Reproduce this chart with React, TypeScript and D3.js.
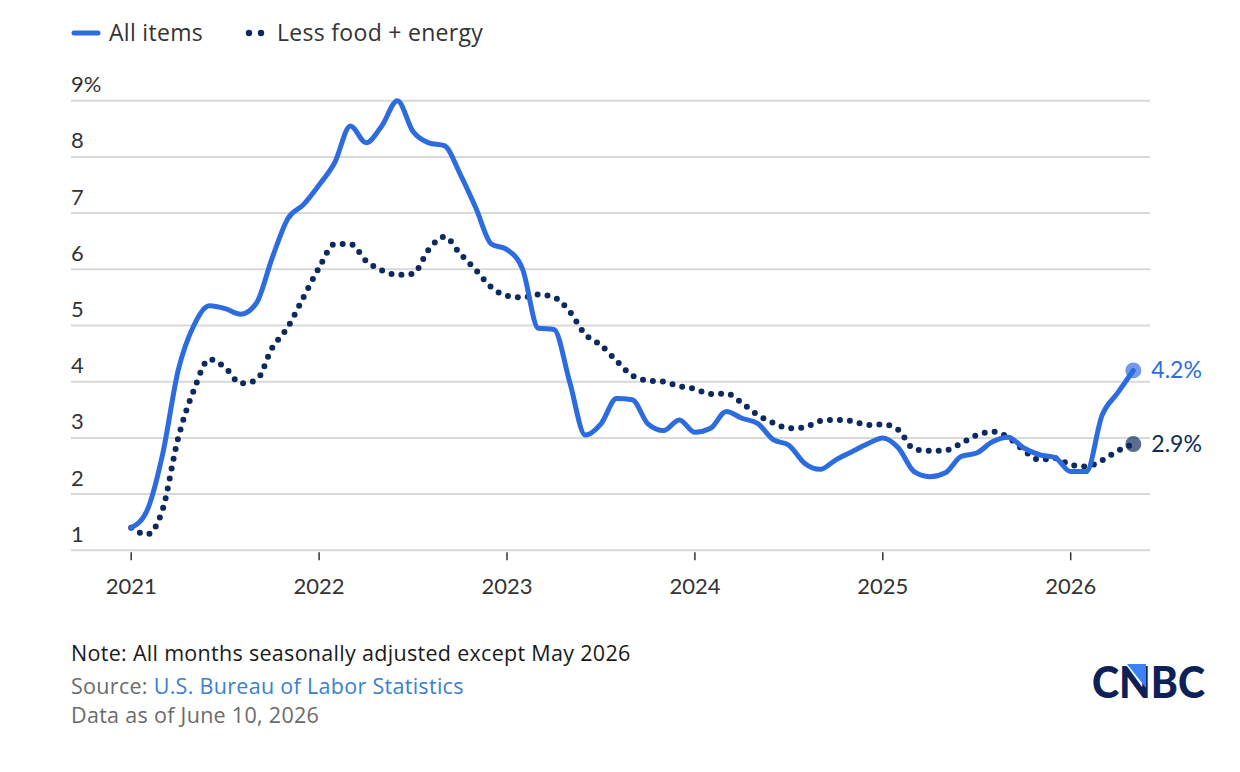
import { useEffect, useRef } from 'react';
import * as d3 from 'd3';

// monthly readings, Jan 2021 .. May 2026 (year-over-year %)
const allItems = [
  1.4, 1.7, 2.7, 4.2, 5.0, 5.35, 5.3, 5.2, 5.4, 6.2, 6.9, 7.15,
  7.5, 7.9, 8.55, 8.25, 8.55, 9.0, 8.45, 8.25, 8.2, 7.7, 7.1, 6.45,
  6.35, 6.0, 4.95, 4.93, 4.0, 3.05, 3.25, 3.7, 3.68, 3.25, 3.13, 3.32,
  3.1, 3.17, 3.47, 3.35, 3.26, 2.97, 2.87, 2.55, 2.44, 2.61, 2.75, 2.89,
  3.0, 2.82, 2.4, 2.31, 2.38, 2.67, 2.73, 2.93, 3.01, 2.82, 2.7, 2.65,
  2.4, 2.4, 3.4, 3.8, 4.2
];

const lessFoodEnergy = [
  1.4, 1.28, 1.72, 3.0, 3.85, 4.4, 4.25, 3.97, 4.03, 4.6, 4.97, 5.5,
  6.03, 6.45, 6.45, 6.15, 5.98, 5.9, 5.92, 6.35, 6.58, 6.28, 5.99, 5.68,
  5.53, 5.5, 5.55, 5.5, 5.25, 4.84, 4.65, 4.37, 4.11, 4.02, 4.0, 3.92,
  3.87, 3.78, 3.79, 3.62, 3.41, 3.27, 3.17, 3.19, 3.3, 3.32, 3.3, 3.23,
  3.24, 3.14, 2.8, 2.77, 2.78, 2.9, 3.05, 3.11, 3.01, 2.78, 2.61, 2.64,
  2.52, 2.49, 2.6, 2.77, 2.89
];

const years = ['2021', '2022', '2023', '2024', '2025', '2026'];
const yTicks = [1, 2, 3, 4, 5, 6, 7, 8, 9];

const BLUE = '#2d6cdf';
const NAVY = '#0d2a5e';
const FONT = 'Lato, "Open Sans", sans-serif';
const TEXT_FONT = '"Open Sans", Lato, sans-serif';

function App() {
  const ref = useRef<SVGSVGElement>(null);

  useEffect(() => {
    draw();
    // eslint-disable-next-line
  }, []);

  function draw() {
    const svg = d3.select(ref.current);
    svg.selectAll('*').remove();

    const config = { left: 71, right: 1150, top: 100.7, bottom: 550.3 };

    const x = d3.scaleLinear().domain([0, 60]).range([131.2, 1070.7]);
    const y = d3.scaleLinear().domain([1, 9]).range([config.bottom, config.top]);

    // legend
    const legend = svg.append('g')
      .style('font-family', TEXT_FONT).style('font-size', '23px').style('letter-spacing', '0.3px');
    legend.append('line')
      .attr('x1', 74).attr('x2', 98).attr('y1', 33).attr('y2', 33)
      .attr('stroke', BLUE).attr('stroke-width', 5).attr('stroke-linecap', 'round');
    legend.append('text').attr('x', 109).attr('y', 41).attr('fill', '#333').text('All items');
    [249, 261].forEach(cx => legend.append('circle').attr('cx', cx).attr('cy', 33).attr('r', 3.2).attr('fill', NAVY));
    legend.append('text').attr('x', 277).attr('y', 41).attr('fill', '#333').text('Less food + energy');

    // grid + y labels
    const grid = svg.append('g');
    grid.selectAll('line')
      .data(yTicks)
      .enter()
      .append('line')
      .attr('x1', config.left).attr('x2', config.right)
      .attr('y1', d => y(d)).attr('y2', d => y(d))
      .attr('stroke', '#d9d9d9').attr('stroke-width', 2);
    grid.selectAll('text')
      .data(yTicks)
      .enter()
      .append('text')
      .attr('x', config.left)
      .attr('y', d => y(d) - 8.5)
      .attr('fill', '#333')
      .style('font-family', FONT).style('font-size', '22px')
      .text(d => d === 9 ? '9%' : String(d));

    // x ticks
    const xAxis = svg.append('g');
    xAxis.selectAll('line')
      .data(years)
      .enter()
      .append('line')
      .attr('x1', (_, i) => x(i * 12)).attr('x2', (_, i) => x(i * 12))
      .attr('y1', config.bottom + 2).attr('y2', config.bottom + 10)
      .attr('stroke', '#333').attr('stroke-width', 1.5);
    xAxis.selectAll('text')
      .data(years)
      .enter()
      .append('text')
      .attr('x', (_, i) => x(i * 12))
      .attr('y', 594)
      .attr('text-anchor', 'middle')
      .attr('fill', '#333')
      .style('font-family', FONT).style('font-size', '22px')
      .text(d => d);

    const line = d3.line<number>()
      .x((_, i) => x(i))
      .y(d => y(d))
      .curve(d3.curveMonotoneX);

    svg.append('path')
      .attr('d', line(lessFoodEnergy))
      .attr('fill', 'none')
      .attr('stroke', NAVY)
      .attr('stroke-width', 6)
      .attr('stroke-linecap', 'round')
      .attr('stroke-dasharray', '0 10');

    svg.append('path')
      .attr('d', line(allItems))
      .attr('fill', 'none')
      .attr('stroke', BLUE)
      .attr('stroke-width', 5)
      .attr('stroke-linejoin', 'round')
      .attr('stroke-linecap', 'round');

    // end markers
    const last = allItems.length - 1;
    const ends = [
      { v: allItems[last], color: BLUE, label: '4.2%' },
      { v: lessFoodEnergy[last], color: NAVY, label: '2.9%' }
    ];
    ends.forEach(e => {
      svg.append('circle')
        .attr('cx', x(last)).attr('cy', y(e.v)).attr('r', 8)
        .attr('fill', e.color).attr('fill-opacity', 0.68);
      svg.append('text')
        .attr('x', x(last) + 18).attr('y', y(e.v) + 8)
        .attr('fill', e.color)
        .style('font-family', FONT).style('font-size', '23px')
        .text(e.label);
    });

    // footer
    const foot = svg.append('g')
      .style('font-family', TEXT_FONT).style('font-size', '21.5px').style('letter-spacing', '0.3px');
    foot.append('text').attr('x', 71).attr('y', 661).attr('fill', '#1a1a1a')
      .text('Note: All months seasonally adjusted except May 2026');
    const src = foot.append('text').attr('x', 71).attr('y', 694).attr('fill', '#6b6b6b');
    src.append('tspan').text('Source: ');
    src.append('tspan').attr('fill', '#3a80cc').text('U.S. Bureau of Labor Statistics');
    foot.append('text').attr('x', 71).attr('y', 723).attr('fill', '#6b6b6b')
      .text('Data as of June 10, 2026');

    // logo
    const logo = svg.append('g');
    logo.append('text')
      .attr('x', 1092).attr('y', 698)
      .attr('fill', '#0b2158')
      .attr('textLength', 113)
      .attr('lengthAdjust', 'spacingAndGlyphs')
      .style('font-family', FONT).style('font-size', '44px').style('font-weight', 900)
      .text('CNBC');
    logo.append('polygon')
      .attr('points', '1127,664 1146,664 1146,688')
      .attr('fill', '#3b82f6');
  }

  return (
    <svg ref={ref} width={1240} height={772}
      style={{ position: 'absolute', left: 0, top: 0, background: '#fff' }} />
  );
}

export default App;
